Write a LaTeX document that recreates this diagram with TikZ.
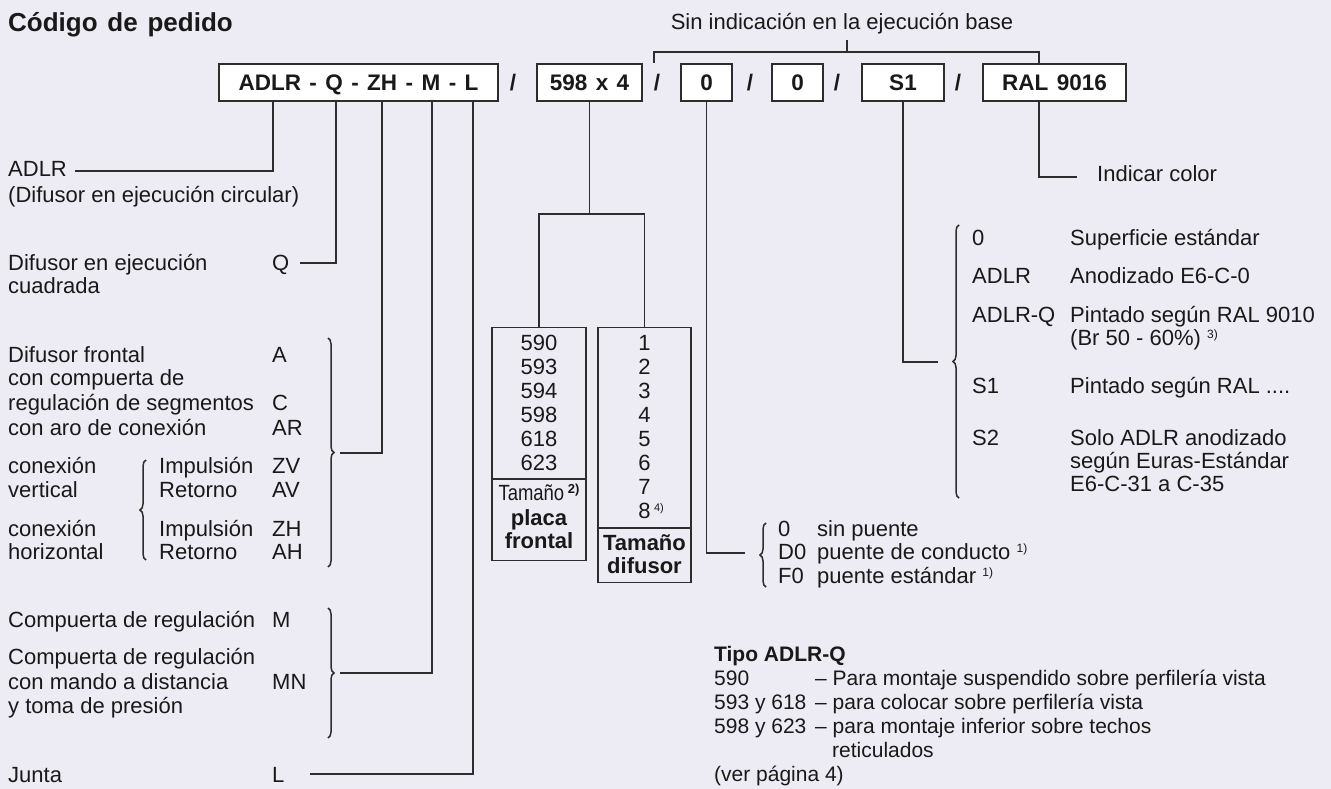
\documentclass[tikz,border=0pt]{standalone}
\usepackage{fontspec}
\setmainfont{Liberation Sans}
\newfontfamily\widetitle{Liberation Sans}[WordSpace=1.9]
\newfontfamily\widebox{Liberation Sans}[WordSpace=1.35]
\usetikzlibrary{decorations.pathreplacing}
\definecolor{bg}{RGB}{237,236,244}
\definecolor{ink}{RGB}{25,25,25}
\definecolor{ln}{RGB}{45,45,45}
\newcommand\mysup[2][12]{{\fontsize{#1}{#1}\selectfont\raisebox{7pt}{#2}}}
\begin{document}
\begin{tikzpicture}[x=1pt,y=-1pt,
 txt/.style={anchor=base west,inner sep=0pt,text=ink,font=\fontsize{22}{25}\selectfont},
 ctxt/.style={txt,anchor=base},
 btxt/.style={txt,font=\fontsize{22}{25}\selectfont\bfseries},
 cbtxt/.style={btxt,anchor=base},
 stxt/.style={txt,font=\fontsize{21}{24}\selectfont},
 sbtxt/.style={txt,font=\fontsize{21}{24}\selectfont\bfseries},
 codebox/.style={draw=ln,line width=1.3pt,fill=white,minimum height=37pt,inner sep=0pt,text height=15.5pt,text depth=0pt,font=\widebox\fontsize{22.5}{25}\selectfont\bfseries,text=ink},
 slash/.style={anchor=base,inner sep=0pt,text=ink,font=\fontsize{22.5}{25}\selectfont\bfseries},
 listbox/.style={draw=ln,line width=1.3pt,inner sep=0pt,anchor=north},
 conn/.style={draw=ln,line width=1.3pt},
 sepline/.style={draw=ln,line width=2.6pt},
 brc/.style={draw=ln,line width=1.5pt,decorate,decoration={brace,amplitude=6pt}}
]
\fill[bg] (0,0) rectangle (1331,789);
\useasboundingbox (0,0) rectangle (1331,789);

% title
\node[txt,font=\widetitle\bfseries\fontsize{26}{28}\selectfont] (title) at (8,32) {Código de pedido};

% code boxes
\node[codebox,minimum width=279pt] (b1) at (358.5,82.5) {ADLR - Q - ZH - M - L};
\node[slash] (s1) at (513,91) {/};
\node[codebox,minimum width=105pt] (b2) at (589.5,82.5) {598 x 4};
\node[slash] (s2) at (657,91) {/};
\node[codebox,minimum width=51pt] (b3) at (706.5,82.5) {0};
\node[slash] (s3) at (750,91) {/};
\node[codebox,minimum width=51pt] (b4) at (797.5,82.5) {0};
\node[slash] (s4) at (837,91) {/};
\node[codebox,minimum width=82pt] (b5) at (903,82.5) {S1};
\node[slash] (s5) at (958,91) {/};
\node[codebox,minimum width=143pt] (b6) at (1054.5,82.5) {RAL 9016};

% top bracket
\node[ctxt] (sin) at (842,30) {Sin indicación en la ejecución base};
\coordinate (brL) at (654,63);
\coordinate (brC) at (847,52);
\draw[conn] (brL) -- ++(0,-11) -| ([xshift=-15.5pt]b6.north);
\draw[conn] (brC) -- ++(0,-12);

% left column texts
\node[txt] (l1) at (8,177) {ADLR};
\node[txt] (l2) at (8,202) {(Difusor en ejecución circular)};
\node[txt] (l3) at (8,270) {Difusor en ejecución};
\node[txt] (l4) at (8,293) {cuadrada};
\node[txt] (kQ) at (272,270) {Q};
\node[txt] (l5) at (8,362) {Difusor frontal};
\node[txt] (kA) at (272,362) {A};
\node[txt] (l6) at (8,385) {con compuerta de};
\node[txt] (l7) at (8,410) {regulación de segmentos};
\node[txt] (kC) at (272,410) {C};
\node[txt] (l8) at (8,435) {con aro de conexión};
\node[txt] (kAR) at (272,435) {AR};
\node[txt] (l9) at (8,473) {conexión};
\node[txt] (i1) at (159,473) {Impulsión};
\node[txt] (kZV) at (272,473) {ZV};
\node[txt] (l10) at (8,497) {vertical};
\node[txt] (r1) at (159,497) {Retorno};
\node[txt] (kAV) at (272,497) {AV};
\node[txt] (l11) at (8,536) {conexión};
\node[txt] (i2) at (159,536) {Impulsión};
\node[txt] (kZH) at (272,536) {ZH};
\node[txt] (l12) at (8,559) {horizontal};
\node[txt] (r2) at (159,559) {Retorno};
\node[txt] (kAH) at (272,559) {AH};
\node[txt] (l13) at (8,627) {Compuerta de regulación};
\node[txt] (kM) at (272,627) {M};
\node[txt] (l14) at (8,664) {Compuerta de regulación};
\node[txt] (l15) at (8,689) {con mando a distancia};
\node[txt] (kMN) at (272,689) {MN};
\node[txt] (l16) at (8,713) {y toma de presión};
\node[txt] (l17) at (8,782) {Junta};
\node[txt] (kL) at (272,782) {L};

% braces left
\draw[brc] (328,338) -- (328,567);
\draw[brc] (328,608) -- (328,738);
\draw[brc] (146,560) -- (146,460);

% left connectors
\coordinate (cADLR) at (75,171);
\coordinate (cQ) at (300,263);
\coordinate (cA) at (340,453);
\coordinate (cM) at (340,673);
\coordinate (cL) at (310,774);
\draw[conn] ([xshift=-85.5pt]b1.south) |- (cADLR);
\draw[conn] ([xshift=-22.5pt]b1.south) |- (cQ);
\draw[conn] ([xshift=23.5pt]b1.south) |- (cA);
\draw[conn] ([xshift=73.5pt]b1.south) |- (cM);
\draw[conn] ([xshift=114.5pt]b1.south) |- (cL);

% size boxes
\node[listbox,minimum width=94pt,minimum height=233pt] (placa) at (539,327) {};
\node[listbox,minimum width=93pt,minimum height=255pt] (difusor) at (644.5,327) {};
\draw[sepline] ([yshift=-152pt]placa.north west) -- ([yshift=-152pt]placa.north east);
\draw[sepline] ([yshift=-201pt]difusor.north west) -- ([yshift=-201pt]difusor.north east);
\coordinate (fk) at (589.5,214);
\draw[conn] (b2.south) -- (fk);
\draw[conn] (placa.north) |- (fk) -| (difusor.north);

\node[ctxt] (p1) at (539,350) {590};
\node[ctxt] (p2) at (539,374) {593};
\node[ctxt] (p3) at (539,398) {594};
\node[ctxt] (p4) at (539,422) {598};
\node[ctxt] (p5) at (539,446) {618};
\node[ctxt] (p6) at (539,470) {623};
\node[ctxt] (pT) at (539,500) {\scalebox{0.84}[1]{Tamaño}\,{\bfseries\mysup[13]{2)}}};
\node[cbtxt] (pP) at (539,525) {placa};
\node[cbtxt] (pF) at (539,548) {frontal};

\node[ctxt] (d1) at (644.5,350) {1};
\node[ctxt] (d2) at (644.5,374) {2};
\node[ctxt] (d3) at (644.5,398) {3};
\node[ctxt] (d4) at (644.5,422) {4};
\node[ctxt] (d5) at (644.5,446) {5};
\node[ctxt] (d6) at (644.5,470) {6};
\node[ctxt] (d7) at (644.5,494) {7};
\node[ctxt] (d8) at (644.5,518) {8};
\node[txt,anchor=base west] (d8s) at ([xshift=3pt]d8.base east) {\mysup[11]{4)}};
\node[cbtxt] (dT) at (644.5,550) {Tamaño};
\node[cbtxt] (dD) at (644.5,573) {difusor};

% 0 group
\coordinate (c0) at (745,553);
\draw[conn] (b3.south) |- (c0);
\draw[brc] (766,587) -- (766,523);
\node[txt] (z1) at (778,536) {0};
\node[txt] (z1t) at (817,536) {sin puente};
\node[txt] (z2) at (778,559.5) {D0};
\node[txt] (z2t) at (817,559.5) {puente de conducto \mysup{1)}};
\node[txt] (z3) at (778,583) {F0};
\node[txt] (z3t) at (817,583) {puente estándar \mysup{1)}};

% S1 group
\coordinate (cS) at (938,362);
\draw[conn] (b5.south) |- (cS);
\draw[brc] (959,498) -- (959,225);
\node[txt] (e1) at (972,245) {0};
\node[txt] (e1t) at (1070,245) {Superficie estándar};
\node[txt] (e2) at (972,283) {ADLR};
\node[txt] (e2t) at (1070,283) {Anodizado E6-C-0};
\node[txt] (e3) at (972,322) {ADLR-Q};
\node[txt] (e3t) at (1070,322) {Pintado según RAL 9010};
\node[txt] (e3u) at (1070,345) {(Br 50 - 60\%) \mysup{3)}};
\node[txt] (e4) at (972,393) {S1};
\node[txt] (e4t) at (1070,393) {Pintado según RAL ....};
\node[txt] (e5) at (972,445) {S2};
\node[txt] (e5t) at (1070,445) {Solo ADLR anodizado};
\node[txt] (e5u) at (1070,468) {según Euras-Estándar};
\node[txt] (e5v) at (1070,491) {E6-C-31 a C-35};

% RAL
\coordinate (cR) at (1077,177);
\draw[conn] ([xshift=-15.5pt]b6.south) |- (cR);
\node[txt] (ral) at (1097,182) {Indicar color};

% Tipo ADLR-Q
\node[sbtxt] (t0) at (714,661) {Tipo ADLR-Q};
\node[stxt] (t1) at (714,685) {590};
\node[stxt] (t1d) at (815,685) {– Para montaje suspendido sobre perfilería vista};
\node[stxt] (t2) at (714,709) {593 y 618};
\node[stxt] (t2d) at (815,709) {– para colocar sobre perfilería vista};
\node[stxt] (t3) at (714,733) {598 y 623};
\node[stxt] (t3d) at (815,733) {– para montaje inferior sobre techos};
\node[stxt] (t4) at (832,757) {reticulados};
\node[stxt] (t5) at (714,781) {(ver página 4)};
\end{tikzpicture}
\end{document}
